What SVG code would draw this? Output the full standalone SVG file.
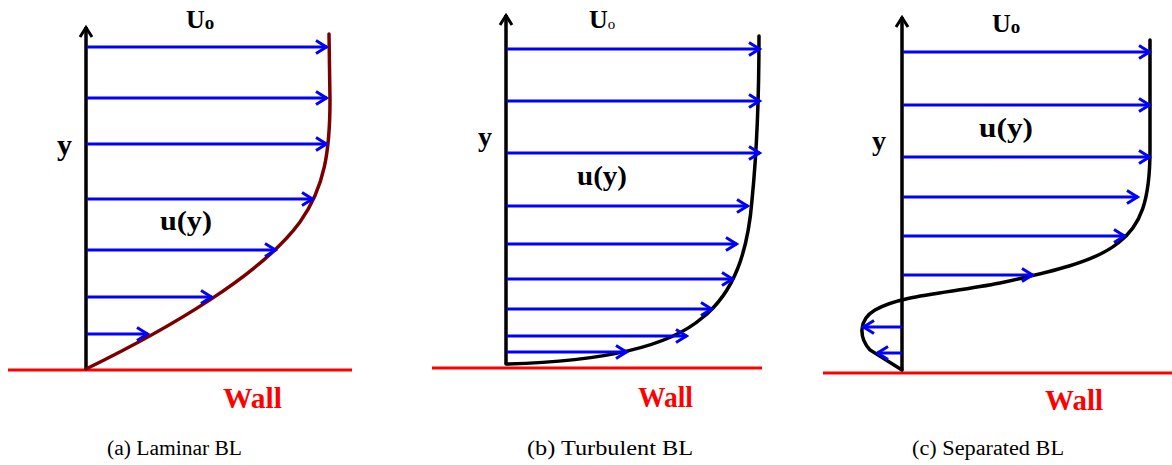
<svg xmlns="http://www.w3.org/2000/svg" width="1172" height="465" viewBox="0 0 1172 465">
<defs>
<marker id="ab" markerUnits="userSpaceOnUse" markerWidth="20" markerHeight="20" viewBox="-14 -10 20 20" refX="0" refY="0" orient="auto" overflow="visible">
<path d="M-11,-6.5 L-0.5,0 L-11,6.5" fill="none" stroke="#0000ff" stroke-width="3" stroke-linejoin="miter"/>
</marker>
<marker id="ak" markerUnits="userSpaceOnUse" markerWidth="20" markerHeight="20" viewBox="-14 -10 20 20" refX="0" refY="0" orient="auto" overflow="visible">
<path d="M-10,-6 L-0.5,0 L-10,6" fill="none" stroke="#000" stroke-width="3" stroke-linejoin="miter"/>
</marker>
</defs>
<style>
.ax{stroke:#000;stroke-width:3.5;fill:none}
.wall{stroke:#ff0000;stroke-width:3;fill:none}
.ar{stroke:#0000ff;stroke-width:3;fill:none;marker-end:url(#ab)}
.prof{fill:none;stroke-width:3.5;stroke-linecap:round}
.lb{font-family:"Liberation Serif","Times New Roman",serif;font-weight:bold;fill:#000}
.wl{font-family:"Liberation Serif","Times New Roman",serif;font-weight:bold;fill:#ff0000;font-size:29px}
.cap{font-family:"Liberation Serif","Times New Roman",serif;fill:#000}
</style>

<g id="panel-a">
<line class="wall" x1="8" y1="370" x2="352" y2="370"/>
<line class="ax" x1="86" y1="369" x2="86" y2="27" marker-end="url(#ak)"/>
<path class="prof" stroke="#7a0000" d="M86,369 C170,328 262,274 300,222 C325,187 330,150 330,100 L329,34"/>
<g id="arrows-a">
<line class="ar" x1="87" y1="47" x2="327" y2="47"/>
<line class="ar" x1="87" y1="98" x2="327" y2="98"/>
<line class="ar" x1="87" y1="144" x2="327" y2="144"/>
<line class="ar" x1="87" y1="199" x2="313" y2="199"/>
<line class="ar" x1="87" y1="250" x2="276" y2="250"/>
<line class="ar" x1="87" y1="297" x2="212" y2="297"/>
<line class="ar" x1="87" y1="334" x2="148" y2="334"/>
</g>
<text class="lb" x="186" y="28" font-size="26">U<tspan font-size="19" dy="1">o</tspan></text>
<text class="lb" x="57" y="155" font-size="30">y</text>
<text class="lb" x="160" y="230" font-size="27" textLength="52" lengthAdjust="spacingAndGlyphs">u(y)</text>
<text class="wl" x="223" y="408" textLength="59" lengthAdjust="spacingAndGlyphs">Wall</text>
<text class="cap" x="107" y="455" font-size="20" textLength="135" lengthAdjust="spacingAndGlyphs">(a) Laminar BL</text>
</g>

<g id="panel-b">
<line class="wall" x1="432" y1="368" x2="762" y2="368"/>
<line class="ax" x1="506" y1="364" x2="506" y2="15" marker-end="url(#ak)"/>
<path class="prof" stroke="#000" d="M506,364 C590,362 665,350 702,318 C735,292 748,250 752,200 C757,150 759,100 759,36"/>
<g id="arrows-b">
<line class="ar" x1="507" y1="49" x2="760" y2="49"/>
<line class="ar" x1="507" y1="101" x2="760" y2="101"/>
<line class="ar" x1="507" y1="153" x2="760" y2="153"/>
<line class="ar" x1="507" y1="206" x2="748" y2="206"/>
<line class="ar" x1="507" y1="244" x2="737" y2="244"/>
<line class="ar" x1="507" y1="279" x2="733" y2="279"/>
<line class="ar" x1="507" y1="309" x2="712" y2="309"/>
<line class="ar" x1="507" y1="336" x2="687" y2="336"/>
<line class="ar" x1="507" y1="352" x2="627" y2="352"/>
</g>
<text class="lb" x="589" y="28" font-size="26">U<tspan font-size="15" font-weight="normal" dy="1">o</tspan></text>
<text class="lb" x="478" y="146" font-size="28">y</text>
<text class="lb" x="577" y="185" font-size="27" textLength="50" lengthAdjust="spacingAndGlyphs">u(y)</text>
<text class="wl" x="638" y="407" textLength="55" lengthAdjust="spacingAndGlyphs">Wall</text>
<text class="cap" x="527" y="455" font-size="20" textLength="166" lengthAdjust="spacingAndGlyphs">(b) Turbulent BL</text>
</g>

<g id="panel-c">
<line class="wall" x1="823" y1="373" x2="1172" y2="373"/>
<line class="ax" x1="902" y1="370" x2="902" y2="17" marker-end="url(#ak)"/>
<path class="prof" stroke="#000" d="M1150,40 L1150,150 C1150,200 1141,226 1118,243 C1095,262 1050,272 1000,283 C950,293 900,295 875,310 C858,320 859,338 870,350 L902,370"/>
<g id="arrows-c">
<line class="ar" x1="903" y1="52" x2="1150" y2="52"/>
<line class="ar" x1="903" y1="105" x2="1150" y2="105"/>
<line class="ar" x1="903" y1="157" x2="1150" y2="157"/>
<line class="ar" x1="903" y1="197" x2="1138" y2="197"/>
<line class="ar" x1="903" y1="236" x2="1125" y2="236"/>
<line class="ar" x1="903" y1="275" x2="1033" y2="275"/>
<line class="ar" x1="902" y1="327" x2="863" y2="327"/>
<line class="ar" x1="902" y1="353" x2="877" y2="353"/>
</g>
<text class="lb" x="992" y="32" font-size="26">U<tspan font-size="19" dy="1">o</tspan></text>
<text class="lb" x="872" y="150" font-size="28">y</text>
<text class="lb" x="979" y="137" font-size="27" textLength="54" lengthAdjust="spacingAndGlyphs">u(y)</text>
<text class="wl" x="1045" y="410" textLength="58" lengthAdjust="spacingAndGlyphs">Wall</text>
<text class="cap" x="912" y="455" font-size="20" textLength="152" lengthAdjust="spacingAndGlyphs">(c) Separated BL</text>
</g>
</svg>
